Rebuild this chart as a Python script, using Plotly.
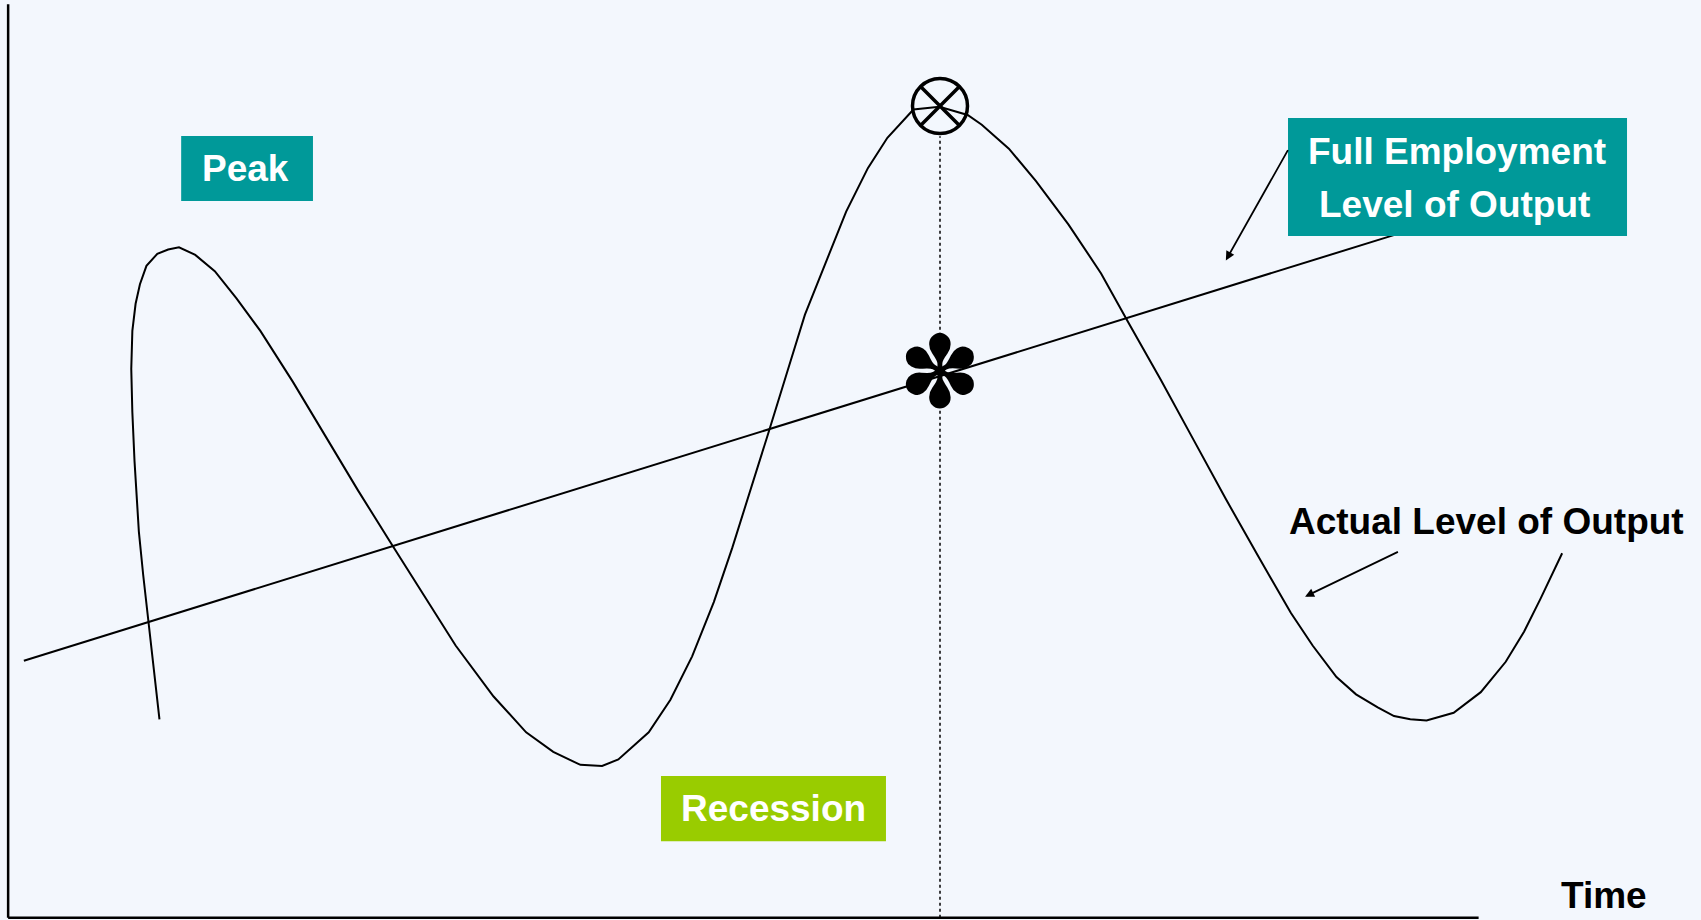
import plotly.graph_objects as go

# actual output curve (time, output level)
curve_time = [147, 142, 137, 132, 128, 124, 122, 121, 122, 125, 129, 135, 145, 155, 165, 180,
              198, 218, 240, 270, 300, 330, 360, 390, 420, 455, 485, 510, 535, 555, 570, 598,
              618, 638, 658, 675, 690, 708, 725, 742, 762, 780, 800, 818, 842, 866, 892, 905,
              930, 955, 985, 1015, 1040, 1070, 1100, 1130, 1160, 1190, 1210, 1232, 1250, 1270,
              1285, 1300, 1315, 1340, 1365, 1388, 1405, 1420, 1440]
curve_output = [185, 228, 273, 318, 358, 423, 468, 508, 543, 568, 586, 603, 614, 618, 620, 613,
                598, 573, 543, 496, 446, 396, 348, 300, 253, 206, 173, 155, 143, 142, 148, 173,
                203, 243, 293, 343, 390, 448, 503, 558, 608, 653, 693, 721, 747, 749.5, 742, 733,
                711, 681, 641, 596, 551, 498, 443, 388, 335, 283, 253, 224, 208, 196,
                188, 185, 184, 191, 210, 238, 266, 296, 338]

# full employment trend line
trend_time = [22, 1287]
trend_output = [239, 632]

# highlighted point in time
mark_time = 866.5
peak_output = 750.3
trend_at_mark = 505

fig = go.Figure()

fig.add_trace(go.Scatter(x=trend_time, y=trend_output, mode="lines",
                         line=dict(color="black", width=2), hoverinfo="skip"))
fig.add_trace(go.Scatter(x=curve_time, y=curve_output, mode="lines",
                         line=dict(color="black", width=2), hoverinfo="skip"))
fig.add_trace(go.Scatter(x=[mark_time, mark_time], y=[2, peak_output - 28], mode="lines",
                         line=dict(color="black", width=1.5, dash="dot"), hoverinfo="skip"))
fig.add_trace(go.Scatter(x=[mark_time], y=[peak_output], mode="markers",
                         marker=dict(symbol="circle-x-open", size=55, color="black",
                                     line=dict(width=3.5, color="black")),
                         hoverinfo="skip"))

# axes
fig.add_shape(type="line", x0=7.5, x1=7.5, y0=2, y1=844, line=dict(color="black", width=2.5))
fig.add_shape(type="line", x0=7.5, x1=1363, y0=2, y1=2, line=dict(color="black", width=2.5))

# label boxes
fig.add_shape(type="rect", x0=167, x1=288.5, y0=662.7, y1=722.6, fillcolor="#009999", line_width=0)
fig.add_shape(type="rect", x0=1187.3, x1=1499.8, y0=630.4, y1=739.2, fillcolor="#009999", line_width=0)
fig.add_shape(type="rect", x0=609.3, x1=816.7, y0=72.7, y1=132.7, fillcolor="#99CC00", line_width=0)

font_w = dict(family="Liberation Sans, Arial", size=37, color="white")
font_b = dict(family="Liberation Sans, Arial", size=37, color="black")

fig.add_annotation(x=226, y=692.5, text="<b>Peak</b>", showarrow=False, font=font_w)
fig.add_annotation(x=1343.5, y=708, text="<b>Full Employment</b>", showarrow=False, font=font_w)
fig.add_annotation(x=1341, y=659.5, text="<b>Level of Output</b>", showarrow=False, font=font_w)
fig.add_annotation(x=713, y=102.5, text="<b>Recession</b>", showarrow=False, font=font_w)
fig.add_annotation(x=1370, y=367, text="<b>Actual Level of Output</b>", showarrow=False, font=font_b)
fig.add_annotation(x=1479, y=23, text="<b>Time</b>", showarrow=False, font=font_b)

# asterisk on the trend line
fig.add_annotation(x=mark_time, y=trend_at_mark, text="✽", showarrow=False,
                   font=dict(family="DejaVu Sans", size=100, color="black"))

# arrows
fig.add_annotation(x=1130, y=608, ax=1188, ay=711, xref="x", yref="y", axref="x", ayref="y",
                   text="", showarrow=True, arrowhead=2, arrowsize=1, arrowwidth=1.8,
                   arrowcolor="black")
fig.add_annotation(x=1203, y=298, ax=1290, ay=340, xref="x", yref="y", axref="x", ayref="y",
                   text="", showarrow=True, arrowhead=2, arrowsize=1, arrowwidth=1.8,
                   arrowcolor="black")

fig.update_layout(
    width=1701,
    height=920,
    margin=dict(l=0, r=0, t=0, b=0),
    paper_bgcolor="#F3F7FD",
    plot_bgcolor="#F3F7FD",
    showlegend=False,
    xaxis=dict(range=[0, 1568], visible=False, fixedrange=True),
    yaxis=dict(range=[0, 848], visible=False, fixedrange=True),
)

fig.write_html("out.html", config={"displayModeBar": False},
               post_script="document.body.style.margin='0';")
